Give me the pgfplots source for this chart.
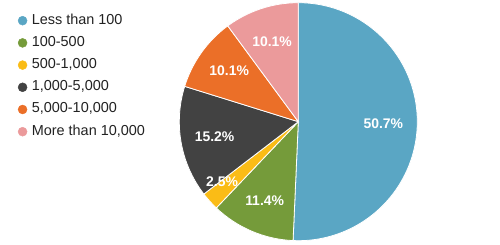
\documentclass[border=0pt]{standalone}
\usepackage{fontspec}
\setmainfont{Liberation Sans}
\usepackage{pgfplots}
\pgfplotsset{compat=1.18}
\usetikzlibrary{calc}
\definecolor{c1}{RGB}{90,166,196}
\definecolor{c2}{RGB}{117,155,58}
\definecolor{c3}{RGB}{250,188,22}
\definecolor{c4}{RGB}{66,66,66}
\definecolor{c5}{RGB}{235,111,40}
\definecolor{c6}{RGB}{235,154,155}
\definecolor{txt}{RGB}{34,34,34}
% slice: colour, cumulative percent before, percent
\newcommand{\slice}[3]{%
  \fill[#1, draw=white, line width=0.8bp] (axis cs:298.3,122.3) -- ++({90-3.6*#2}:119bp)
    arc[start angle={90-3.6*#2}, delta angle={-3.6*#3}, radius=119bp] -- cycle;}
\newcommand{\plabel}[4]{% cumulative, percent, radius, angle offset
  \node[text=white, font=\bfseries\fontsize{14}{16}\selectfont, inner sep=0pt]
    at ($(axis cs:298.3,122.3)+({90-3.6*(#1+#2/2)+#4}:#3bp)$) {#2\%};}
\begin{document}
\begin{tikzpicture}
\begin{axis}[
  scale only axis, width=500bp, height=244bp,
  xmin=0, xmax=500, ymin=0, ymax=244,
  hide axis, clip=false,
  legend image code/.code={\fill[#1] (0bp,0bp) circle (4.5bp); \path (-4.5bp,0bp) (7bp,0bp);},
  legend cell align=left,
  legend style={at={(axis cs:14.7,234)}, anchor=north west, draw=none, fill=none,
    font=\fontsize{14.5}{16}\selectfont, text=txt, row sep=5.2bp,
    nodes={inner sep=2bp, text height=10bp, text depth=3bp}},
]
\path (axis cs:0,0) rectangle (axis cs:500,244);
\slice{c1}{0}{50.7}
\slice{c2}{50.7}{11.4}
\slice{c3}{62.1}{2.5}
\slice{c4}{64.6}{15.2}
\slice{c5}{79.8}{10.1}
\slice{c6}{89.9}{10.1}
\plabel{0}{50.7}{85}{0}
\plabel{50.7}{11.4}{86}{0}
\plabel{62.1}{2.5}{97}{-3.8}
\plabel{64.6}{15.2}{85}{0}
\plabel{79.8}{10.1}{86}{-1}
\plabel{89.9}{10.1}{84}{0}
\addlegendimage{c1}\addlegendentry{Less than 100}
\addlegendimage{c2}\addlegendentry{100-500}
\addlegendimage{c3}\addlegendentry{500-1,000}
\addlegendimage{c4}\addlegendentry{1,000-5,000}
\addlegendimage{c5}\addlegendentry{5,000-10,000}
\addlegendimage{c6}\addlegendentry{More than 10,000}
\end{axis}
\end{tikzpicture}
\end{document}
